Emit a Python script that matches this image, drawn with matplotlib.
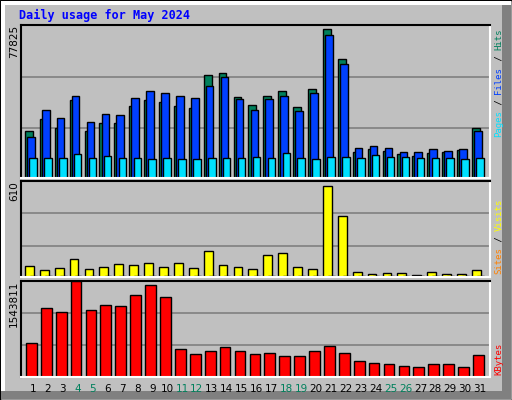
import matplotlib
matplotlib.use("Agg")
import matplotlib.pyplot as plt
from matplotlib.patches import Rectangle
import numpy as np

W, H = 512, 400
days = np.arange(1, 32)
weekend = {4, 5, 11, 12, 18, 19, 25, 26}

hits_max = 77825
visits_max = 610
kb_max = 1543811

# values
hits = [23700, 29900, 25300, 39700, 23700, 27800, 27800, 36600, 39700, 38600, 36500, 35500,
        52500, 53500, 41200, 37100, 41700, 44300, 36000, 45300, 75800, 60300, 12900, 14500,
        13400, 11900, 10800, 12400, 12900, 13900, 25300]
files = [20600, 34400, 30200, 41800, 28400, 32500, 32000, 40800, 44300, 43300, 41700, 40600,
         46800, 51500, 40100, 34500, 40100, 41700, 34000, 43300, 72600, 57700, 14900, 15900,
         14900, 12900, 12900, 14400, 13400, 14400, 23700]
pages = [9800, 9800, 9800, 11800, 9800, 10800, 9800, 9800, 9300, 9800, 9300, 9300,
         9800, 9800, 9800, 10300, 9800, 12400, 9800, 9300, 10300, 10300, 9800, 11300,
         10300, 10300, 9800, 9800, 9800, 9300, 9800]
visits = [70, 43, 56, 113, 49, 62, 81, 75, 88, 62, 88, 56, 165, 75, 62, 49, 139, 152, 62, 49,
          575, 385, 30, 17, 24, 24, 11, 30, 17, 17, 43]
sites = [5] * 31
kbytes = [542000, 1098000, 1030000, 1543811, 1064000, 1149000, 1132000, 1318000, 1471000,
          1284000, 441000, 356000, 407000, 475000, 407000, 356000, 373000, 322000, 322000,
          407000, 492000, 373000, 254000, 220000, 203000, 170000, 153000, 203000, 203000,
          153000, 339000]

BG = "#c0c0c0"
fig = plt.figure(figsize=(W / 100, H / 100), dpi=100, facecolor=BG)

# 3D frame (drawn behind the axes)
frame = [
    ((0, 0), 1, 1, BG, "black"),
    ((1 / W, 1 - 5 / H), 1 - 2 / W, 4 / H, "white", "none"),
    ((1 / W, 1 / H), 4 / W, 1 - 2 / H, "white", "none"),
    ((1 - 10 / W, 1 / H), 9 / W, 1 - 6 / H, "#808080", "none"),
    ((1 / W, 1 / H), 1 - 2 / W, 8 / H, "#808080", "none"),
]
for xy, w, h, fc, ec in frame:
    fig.patches.append(Rectangle(xy, w, h, transform=fig.transFigure, fc=fc, ec=ec, lw=1, zorder=-10))

X0, X1 = 20.7, 490
XL = (0.175, 31.67)


def panel(top, bottom, ymax):
    ax = fig.add_axes([X0 / W, 1 - bottom / H, (X1 - X0) / W, (bottom - top) / H])
    ax.set_facecolor(BG)
    ax.set_xlim(*XL)
    ax.set_ylim(0, ymax)
    ax.set_xticks([])
    ax.set_yticks([])
    for y in (ymax * 0.325, ymax * 0.66):
        ax.axhline(y, color="#808080", lw=1.2, zorder=0)
    ax.spines["top"].set_color("black")
    ax.spines["left"].set_color("black")
    ax.spines["bottom"].set_color("white")
    ax.spines["right"].set_color("white")
    for s in ax.spines.values():
        s.set_linewidth(1.5)
    return ax


ax1 = panel(25, 177.5, hits_max)
ax1.bar(days - 0.54, hits, 0.52, align="edge", color="#00805c", ec="black", lw=1)
ax1.bar(days - 0.40, files, 0.51, align="edge", color="#0040ff", ec="black", lw=1)
ax1.bar(days - 0.25, pages, 0.50, align="edge", color="#00e0ff", ec="black", lw=1)

ax2 = panel(180.5, 277, visits_max)
ax2.bar(days - 0.54, visits, 0.59, align="edge", color="#ffff00", ec="black", lw=1)
ax2.bar(days - 0.2, sites, 0.45, align="edge", color="#ff8000", ec="black", lw=1)

ax3 = panel(280.5, 376.5, kb_max)
ax3.bar(days - 0.47, kbytes, 0.72, align="edge", color="#ff0000", ec="black", lw=1)

mono = "DejaVu Sans Mono"
fig.text(19 / W, 1 - 15 / H, "Daily usage for May 2024", color="#0000ff", fontsize=8.5,
         family=mono, fontweight="bold", va="center", ha="left")

for txt, yt in (("77825", 25), ("610", 181), ("1543811", 281)):
    fig.text(14 / W, 1 - yt / H, txt, rotation=90, fontsize=7.5, va="top", ha="center", color="black")

for d in days:
    xd = 33 + (d - 1) * 14.9
    fig.text(xd / W, 1 - 389 / H, str(d), fontsize=7.5, ha="center", va="center",
             color="#00805c" if d in weekend else "black")


def side_label(parts, y_bottom, x=499):
    y = y_bottom
    fs = 6.5
    step = 0.602 * fs * 100 / 72
    for s, c in parts:
        fig.text(x / W, 1 - y / H, s, rotation=90, fontsize=fs, family=mono, color=c,
                 ha="center", va="bottom")
        y -= step * len(s)


side_label([("Pages", "#00e0ff"), (" / ", "black"), ("Files", "#0040ff"),
            (" / ", "black"), ("Hits", "#00805c")], 137)
side_label([("Sites", "#ff8000"), (" / ", "black"), ("Visits", "#ffff00")], 274)
side_label([("KBytes", "#ff0000")], 375)

fig.savefig("out.png", dpi=100, facecolor=BG)
